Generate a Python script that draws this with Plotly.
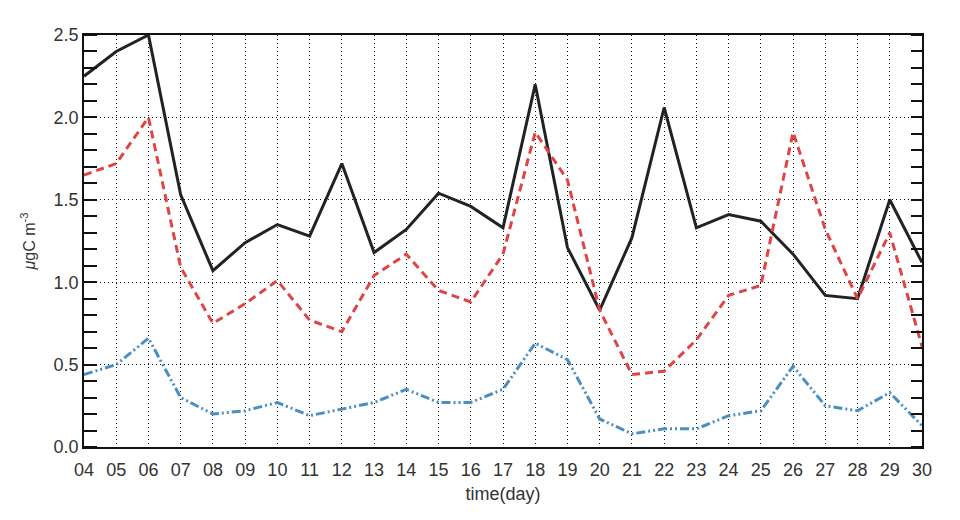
import plotly.graph_objects as go

days = list(range(4, 31))
tick_labels = ["%02d" % d for d in days]

total = [2.25, 2.40, 2.50, 1.53, 1.07, 1.24, 1.35, 1.28, 1.72, 1.18, 1.32, 1.54, 1.46,
         1.33, 2.20, 1.21, 0.83, 1.27, 2.06, 1.33, 1.41, 1.37, 1.17, 0.92, 0.90, 1.50, 1.12]
red_series = [1.65, 1.72, 2.00, 1.09, 0.75, 0.87, 1.01, 0.77, 0.70, 1.04, 1.17, 0.95, 0.88,
              1.17, 1.91, 1.62, 0.83, 0.44, 0.46, 0.65, 0.92, 0.98, 1.91, 1.32, 0.90, 1.30, 0.61]
blue_series = [0.44, 0.50, 0.66, 0.30, 0.20, 0.22, 0.27, 0.19, 0.23, 0.27, 0.35, 0.27, 0.27,
               0.35, 0.63, 0.53, 0.17, 0.08, 0.11, 0.11, 0.19, 0.22, 0.49, 0.25, 0.22, 0.33, 0.13]

fig = go.Figure()
fig.add_trace(go.Scatter(x=days, y=total, mode="lines",
                         line=dict(color="#222222", width=3), showlegend=False))
fig.add_trace(go.Scatter(x=days, y=red_series, mode="lines",
                         line=dict(color="#e04444", width=3, dash="8px,5px"), showlegend=False))
fig.add_trace(go.Scatter(x=days, y=blue_series, mode="lines",
                         line=dict(color="#4a8fc0", width=3, dash="9px,3px,2px,3px,2px,3px"),
                         showlegend=False))
# invisible trace for right axis ticks
fig.add_trace(go.Scatter(x=[days[0]], y=[0], yaxis="y2", mode="markers",
                         marker=dict(opacity=0), showlegend=False, hoverinfo="skip"))

font_main = "Liberation Sans, Arial, sans-serif"

fig.update_layout(
    width=960, height=520,
    margin=dict(l=84, r=38, t=35, b=73),
    paper_bgcolor="white", plot_bgcolor="white",
    font=dict(family=font_main, color="#333333"),
    xaxis=dict(
        range=[4, 30], tickvals=days, ticktext=tick_labels,
        tickfont=dict(size=18, color="#333333"), ticks="", ticklabelstandoff=6,
        showgrid=True, gridcolor="#111111", gridwidth=1, griddash="1px,3px",
        showline=True, linecolor="#111111", linewidth=1.5, mirror=True,
        zeroline=False,
        title=dict(text="time(day)", font=dict(size=18, color="#333333"), standoff=8),
    ),
    yaxis=dict(
        range=[0, 2.5], tickvals=[0, 0.5, 1.0, 1.5, 2.0, 2.5],
        ticktext=["0.0", "0.5", "1.0", "1.5", "2.0", "2.5"],
        tickfont=dict(size=18, color="#333333"), ticks="",
        showgrid=True, gridcolor="#111111", gridwidth=1, griddash="1px,3px",
        showline=True, linecolor="#111111", linewidth=1.5, mirror=True,
        zeroline=False,
        minor=dict(ticks="inside", ticklen=13, dtick=0.1, tick0=0,
                   tickcolor="#111111", tickwidth=1.5, showgrid=False),
        title=dict(text="<i>μ</i>gC m<sup>-3</sup>", font=dict(size=16, color="#333333"),
                   standoff=14),
    ),
    yaxis2=dict(
        range=[0, 2.5], overlaying="y", side="right", showticklabels=False,
        ticks="", showgrid=False, zeroline=False, showline=False,
        tickvals=[0, 0.5, 1.0, 1.5, 2.0, 2.5],
        minor=dict(ticks="inside", ticklen=11, dtick=0.1, tick0=0,
                   tickcolor="#111111", tickwidth=1.5, showgrid=False),
    ),
)

fig.write_html("out.html")
